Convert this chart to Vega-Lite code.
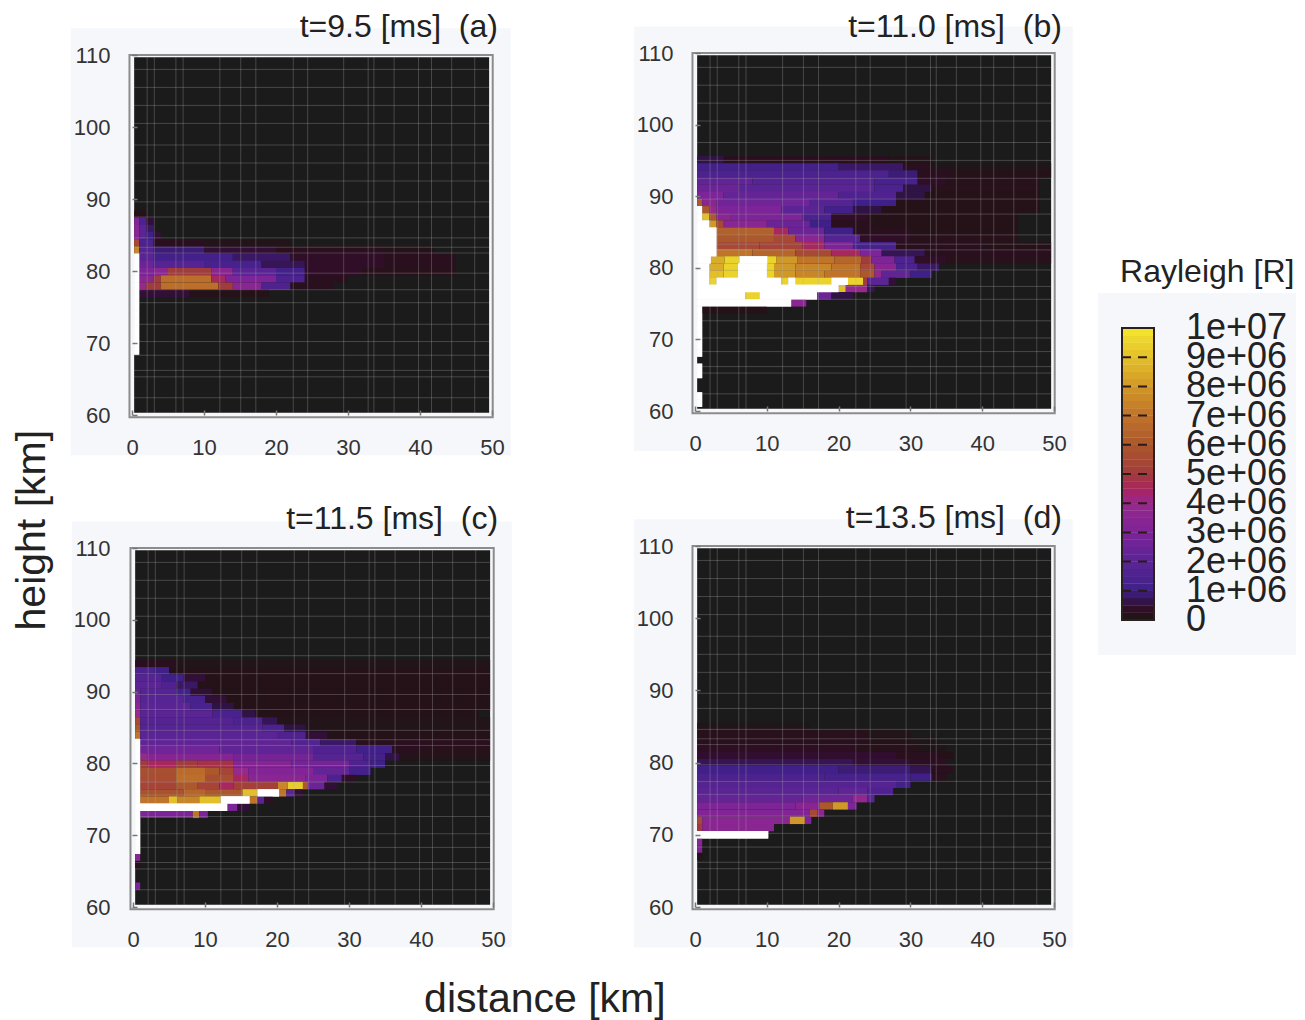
{"$schema":"https://vega.github.io/schema/vega-lite/v6.json","padding":{"left":11,"top":10,"right":9,"bottom":0},"background":"white","bounds":"flush","align":"each","columns":3,"spacing":{"row":131,"column":67},
"config":{"font":"Liberation Sans","view":{"stroke":null},"axis":{"grid":false,"domain":false,"tickColor":"#777777","tickWidth":1.5,"tickSize":-5,"labelColor":"#333333","labelFontSize":22,"labelOverlap":false,"labelFlush":false,"labelBound":false,"labelPadding":27}},
"datasets":{
"paper":[{"x":-8.5,"X":52.6,"y":54.4,"Y":113.7}],
"black":[{"x":0.3,"X":49.6,"y":60.3,"Y":109.7}],
"frame":[{"x":-0.35,"X":50.1,"y":59.7,"Y":110}],
"gx":[{"g":2.1},{"g":3.1},{"g":6.1},{"g":7.1},{"g":12.2},{"g":15.1},{"g":17.2},{"g":22.4},{"g":24.4},{"g":29.4},{"g":32.8},{"g":33.6},{"g":36.4},{"g":39.8},{"g":41.6},{"g":44.4},{"g":47.6}],
"gy":[{"g":62.4},{"g":65.3},{"g":66.2},{"g":68.3},{"g":70.2},{"g":72.6},{"g":75.6},{"g":77.4},{"g":79.7},{"g":82.5},{"g":83.3},{"g":84.6},{"g":87.5},{"g":89.6},{"g":92.5},{"g":95},{"g":97.5},{"g":100.5},{"g":103},{"g":105.5},{"g":108}],
"a":[
{"x":0.3,"X":2,"y":87.9,"v":0.2},
{"x":0.3,"X":1,"y":86.9,"v":3},{"x":1,"X":2,"y":86.9,"v":1.5},{"x":2,"X":3,"y":86.9,"v":0.5},
{"x":0.3,"X":1,"y":85.9,"v":3.5},{"x":1,"X":2,"y":85.9,"v":2},{"x":2,"X":3,"y":85.9,"v":0.8},
{"x":0.3,"X":1,"y":84.9,"v":3.5},{"x":1,"X":2,"y":84.9,"v":2},{"x":2,"X":3,"y":84.9,"v":1},{"x":3,"X":4,"y":84.9,"v":0.5},
{"x":0.3,"X":1,"y":83.9,"v":5.5},{"x":1,"X":3,"y":83.9,"v":1.5},{"x":3,"X":10,"y":83.9,"v":0.3},{"x":10,"X":22,"y":83.9,"v":0.15},
{"x":0.3,"X":1,"y":82.9,"v":7.5},{"x":1,"X":3,"y":82.9,"v":1.8},{"x":3,"X":10,"y":82.9,"v":0.9},{"x":10,"X":20,"y":82.9,"v":0.5},{"x":20,"X":35,"y":82.9,"v":0.3},{"x":35,"X":42,"y":82.9,"v":0.2},
{"x":1,"X":3,"y":81.9,"v":2},{"x":3,"X":14,"y":81.9,"v":1.2},{"x":14,"X":22,"y":81.9,"v":0.8},{"x":22,"X":35,"y":81.9,"v":0.4},{"x":35,"X":45,"y":81.9,"v":0.3},
{"x":1,"X":3,"y":80.9,"v":2.5},{"x":3,"X":10,"y":80.9,"v":1.8},{"x":10,"X":18,"y":80.9,"v":1.3},{"x":18,"X":24,"y":80.9,"v":0.7},{"x":24,"X":35,"y":80.9,"v":0.4},{"x":35,"X":45,"y":80.9,"v":0.3},
{"x":1,"X":3,"y":79.9,"v":3},{"x":3,"X":5,"y":79.9,"v":3.5},{"x":5,"X":11,"y":79.9,"v":5},{"x":11,"X":14,"y":79.9,"v":3.5},{"x":14,"X":20,"y":79.9,"v":2},{"x":20,"X":24,"y":79.9,"v":1.2},{"x":24,"X":32,"y":79.9,"v":0.4},{"x":32,"X":45,"y":79.9,"v":0.25},
{"x":1,"X":3,"y":78.9,"v":3.5},{"x":3,"X":4,"y":78.9,"v":5},{"x":4,"X":11,"y":78.9,"v":6.8},{"x":11,"X":13,"y":78.9,"v":4.5},{"x":13,"X":20,"y":78.9,"v":3},{"x":20,"X":24,"y":78.9,"v":1.5},{"x":24,"X":30,"y":78.9,"v":0.3},
{"x":1,"X":2,"y":77.9,"v":4},{"x":2,"X":4,"y":77.9,"v":5},{"x":4,"X":12,"y":77.9,"v":6.8},{"x":12,"X":14,"y":77.9,"v":5},{"x":14,"X":18,"y":77.9,"v":3.5},{"x":18,"X":22,"y":77.9,"v":1.6},{"x":22,"X":28,"y":77.9,"v":0.3},
{"x":1,"X":8,"y":76.9,"v":0.5},{"x":8,"X":19,"y":76.9,"v":0.2},
{"x":0.3,"X":1,"y":81.9,"v":11},{"x":0.3,"X":1,"y":80.9,"v":11},{"x":0.3,"X":1,"y":79.9,"v":11},{"x":0.3,"X":1,"y":78.9,"v":11},{"x":0.3,"X":1,"y":77.9,"v":11},{"x":0.3,"X":1,"y":76.9,"v":11},{"x":0.3,"X":1,"y":75.9,"v":11},{"x":0.3,"X":1,"y":74.9,"v":11},{"x":0.3,"X":1,"y":73.9,"v":11},{"x":0.3,"X":1,"y":72.9,"v":11},{"x":0.3,"X":1,"y":71.9,"v":11},{"x":0.3,"X":1,"y":70.9,"v":11},{"x":0.3,"X":1,"y":69.9,"v":11},{"x":0.3,"X":1,"y":68.9,"v":11}],
"b":[
{"x":0.3,"X":4,"y":95.1,"v":0.6},{"x":4,"X":27,"y":95.1,"v":0.3},{"x":27,"X":33,"y":95.1,"v":0.15},
{"x":0.3,"X":20,"y":94.1,"v":1.2},{"x":20,"X":29,"y":94.1,"v":0.8},{"x":29,"X":33,"y":94.1,"v":0.3},{"x":33,"X":49.6,"y":94.1,"v":0.1},
{"x":0.3,"X":27,"y":93.1,"v":1.5},{"x":27,"X":31,"y":93.1,"v":0.9},{"x":31,"X":36,"y":93.1,"v":0.3},{"x":36,"X":49.6,"y":93.1,"v":0.2},
{"x":0.3,"X":8,"y":92.1,"v":2.2},{"x":8,"X":25,"y":92.1,"v":1.8},{"x":25,"X":31,"y":92.1,"v":1.3},{"x":31,"X":35,"y":92.1,"v":0.4},{"x":35,"X":48,"y":92.1,"v":0.25},
{"x":0.3,"X":6,"y":91.1,"v":2.5},{"x":6,"X":25,"y":91.1,"v":2},{"x":25,"X":29,"y":91.1,"v":1.5},{"x":29,"X":33,"y":91.1,"v":0.6},{"x":33,"X":48,"y":91.1,"v":0.25},
{"x":0.3,"X":4,"y":90.1,"v":3},{"x":4,"X":20,"y":90.1,"v":2.3},{"x":20,"X":28,"y":90.1,"v":1.6},{"x":28,"X":32,"y":90.1,"v":0.6},{"x":32,"X":48,"y":90.1,"v":0.2},
{"x":0.3,"X":1,"y":89.1,"v":6},{"x":1,"X":3,"y":89.1,"v":3.5},{"x":3,"X":16,"y":89.1,"v":2.6},{"x":16,"X":22,"y":89.1,"v":1.8},{"x":22,"X":28,"y":89.1,"v":1},{"x":28,"X":48,"y":89.1,"v":0.2},
{"x":0.3,"X":1,"y":88.1,"v":11},{"x":1,"X":2,"y":88.1,"v":6},{"x":2,"X":3,"y":88.1,"v":4},{"x":3,"X":12,"y":88.1,"v":3},{"x":12,"X":18,"y":88.1,"v":2},{"x":18,"X":22,"y":88.1,"v":1.2},{"x":22,"X":26,"y":88.1,"v":0.6},{"x":26,"X":48,"y":88.1,"v":0.2},
{"x":0.3,"X":1,"y":87.1,"v":11},{"x":1,"X":2,"y":87.1,"v":9},{"x":2,"X":3,"y":87.1,"v":6},{"x":3,"X":5,"y":87.1,"v":3.5},{"x":5,"X":15,"y":87.1,"v":3},{"x":15,"X":19,"y":87.1,"v":1.5},{"x":19,"X":24,"y":87.1,"v":0.4},{"x":24,"X":45,"y":87.1,"v":0.2},
{"x":0.3,"X":2,"y":86.1,"v":11},{"x":2,"X":3,"y":86.1,"v":8},{"x":3,"X":4,"y":86.1,"v":5.5},{"x":4,"X":10,"y":86.1,"v":3.5},{"x":10,"X":16,"y":86.1,"v":2.5},{"x":16,"X":19,"y":86.1,"v":1},{"x":19,"X":25,"y":86.1,"v":0.3},{"x":25,"X":45,"y":86.1,"v":0.2},
{"x":0.3,"X":3,"y":85.1,"v":11},{"x":3,"X":11,"y":85.1,"v":6.3},{"x":11,"X":13,"y":85.1,"v":4.5},{"x":13,"X":18,"y":85.1,"v":2.5},{"x":18,"X":22,"y":85.1,"v":1},{"x":22,"X":30,"y":85.1,"v":0.3},{"x":30,"X":45,"y":85.1,"v":0.2},
{"x":0.3,"X":3,"y":84.1,"v":11},{"x":3,"X":11,"y":84.1,"v":6},{"x":11,"X":14,"y":84.1,"v":5.5},{"x":14,"X":18,"y":84.1,"v":3.5},{"x":18,"X":23,"y":84.1,"v":1.8},{"x":23,"X":30,"y":84.1,"v":0.4},{"x":30,"X":45,"y":84.1,"v":0.25},
{"x":0.3,"X":3,"y":83.1,"v":11},{"x":3,"X":9,"y":83.1,"v":5.5},{"x":9,"X":15,"y":83.1,"v":5.3},{"x":15,"X":18,"y":83.1,"v":4.5},{"x":18,"X":22,"y":83.1,"v":3},{"x":22,"X":28,"y":83.1,"v":1.3},{"x":28,"X":40,"y":83.1,"v":0.3},{"x":40,"X":49.6,"y":83.1,"v":0.2},
{"x":0.3,"X":3,"y":82.1,"v":11},{"x":3,"X":8,"y":82.1,"v":7},{"x":8,"X":14,"y":82.1,"v":6.5},{"x":14,"X":19,"y":82.1,"v":5.5},{"x":19,"X":23,"y":82.1,"v":4.5},{"x":23,"X":26,"y":82.1,"v":3},{"x":26,"X":32,"y":82.1,"v":0.7},{"x":32,"X":49.6,"y":82.1,"v":0.3},
{"x":0.3,"X":2.2,"y":81.1,"v":11},{"x":2.2,"X":4.1,"y":81.1,"v":8.5},{"x":4.1,"X":6.2,"y":81.1,"v":9.5},{"x":6.2,"X":10.1,"y":81.1,"v":11},{"x":10.1,"X":11.3,"y":81.1,"v":9.5},{"x":11.3,"X":14.3,"y":81.1,"v":8},{"x":14.3,"X":19.4,"y":81.1,"v":7},{"x":19.4,"X":23.2,"y":81.1,"v":6.5},{"x":23.2,"X":24.6,"y":81.1,"v":5},{"x":24.6,"X":27.8,"y":81.1,"v":3},{"x":27.8,"X":30.6,"y":81.1,"v":1.5},{"x":30.6,"X":35,"y":81.1,"v":0.4},{"x":35,"X":49.6,"y":81.1,"v":0.25},
{"x":0.3,"X":2,"y":80.1,"v":11},{"x":2,"X":4,"y":80.1,"v":8.5},{"x":4,"X":6,"y":80.1,"v":9.5},{"x":6,"X":10,"y":80.1,"v":11},{"x":10,"X":11,"y":80.1,"v":9.5},{"x":11,"X":14,"y":80.1,"v":8},{"x":14,"X":19,"y":80.1,"v":7.5},{"x":19,"X":23,"y":80.1,"v":7},{"x":23,"X":25,"y":80.1,"v":5.5},{"x":25,"X":28,"y":80.1,"v":3.5},{"x":28,"X":31,"y":80.1,"v":1.5},{"x":31,"X":34,"y":80.1,"v":0.8},
{"x":0.3,"X":2,"y":79.1,"v":11},{"x":2,"X":4,"y":79.1,"v":9},{"x":4,"X":6,"y":79.1,"v":9.5},{"x":6,"X":10,"y":79.1,"v":11},{"x":10,"X":11,"y":79.1,"v":9.5},{"x":11,"X":14,"y":79.1,"v":8},{"x":14,"X":18,"y":79.1,"v":7.5},{"x":18,"X":23,"y":79.1,"v":7},{"x":23,"X":25,"y":79.1,"v":6},{"x":25,"X":26,"y":79.1,"v":4},{"x":26,"X":30,"y":79.1,"v":2.2},{"x":30,"X":33,"y":79.1,"v":1},
{"x":0.3,"X":2,"y":78.1,"v":11},{"x":2,"X":3,"y":78.1,"v":9.5},{"x":3,"X":12,"y":78.1,"v":11},{"x":12,"X":13,"y":78.1,"v":9.5},{"x":13,"X":14,"y":78.1,"v":11},{"x":14,"X":19,"y":78.1,"v":9.5},{"x":19,"X":21.3,"y":78.1,"v":11},{"x":21.3,"X":23.4,"y":78.1,"v":9.5},{"x":23.4,"X":24,"y":78.1,"v":5},{"x":24,"X":27,"y":78.1,"v":2},{"x":27,"X":28,"y":78.1,"v":0.5},
{"x":0.3,"X":20,"y":77.1,"v":11},{"x":20,"X":21,"y":77.1,"v":9},{"x":21,"X":24,"y":77.1,"v":4},{"x":24,"X":25,"y":77.1,"v":0.7},
{"x":0.3,"X":7,"y":76.1,"v":11},{"x":7,"X":9,"y":76.1,"v":9.5},{"x":9,"X":17,"y":76.1,"v":11},{"x":17,"X":19,"y":76.1,"v":2.5},{"x":19,"X":22,"y":76.1,"v":0.6},
{"x":0.3,"X":13.4,"y":75.1,"v":11},{"x":13.4,"X":15.5,"y":75.1,"v":3.5},
{"x":0.3,"X":1,"y":74.1,"v":11},{"x":1,"X":10,"y":74.1,"v":0.2},
{"x":0.3,"X":1,"y":73.1,"v":11},{"x":0.3,"X":1,"y":72.1,"v":11},{"x":0.3,"X":1,"y":71.1,"v":11},{"x":0.3,"X":1,"y":70.1,"v":11},{"x":0.3,"X":1,"y":69.1,"v":11},{"x":0.3,"X":1,"y":68.1,"v":11},{"x":0.3,"X":1,"y":66.1,"v":11},{"x":0.3,"X":1,"y":65.1,"v":11},{"x":0.3,"X":1,"y":62.1,"v":11},{"x":0.3,"X":1,"y":61.1,"v":11}],
"c":[
{"x":0.3,"X":6,"y":93.9,"v":0.3},{"x":6,"X":49.6,"y":93.9,"v":0.12},
{"x":0.3,"X":3,"y":92.9,"v":1.5},{"x":3,"X":5,"y":92.9,"v":1},{"x":5,"X":49.6,"y":92.9,"v":0.2},
{"x":0.3,"X":4,"y":91.9,"v":1.8},{"x":4,"X":7,"y":91.9,"v":1},{"x":7,"X":10,"y":91.9,"v":0.5},{"x":10,"X":49.6,"y":91.9,"v":0.2},
{"x":0.3,"X":4,"y":90.9,"v":2},{"x":4,"X":6,"y":90.9,"v":1.6},{"x":6,"X":9,"y":90.9,"v":0.8},{"x":9,"X":49.6,"y":90.9,"v":0.2},
{"x":0.3,"X":1,"y":89.9,"v":2.5},{"x":1,"X":6,"y":89.9,"v":1.8},{"x":6,"X":8,"y":89.9,"v":1.2},{"x":8,"X":11,"y":89.9,"v":0.5},{"x":11,"X":49.6,"y":89.9,"v":0.2},
{"x":0.3,"X":1,"y":88.9,"v":3},{"x":1,"X":7,"y":88.9,"v":1.9},{"x":7,"X":10,"y":88.9,"v":1.3},{"x":10,"X":13,"y":88.9,"v":0.5},{"x":13,"X":49.6,"y":88.9,"v":0.2},
{"x":0.3,"X":1,"y":87.9,"v":3.5},{"x":1,"X":8,"y":87.9,"v":2},{"x":8,"X":11,"y":87.9,"v":1.4},{"x":11,"X":14,"y":87.9,"v":0.6},{"x":14,"X":49.6,"y":87.9,"v":0.2},
{"x":0.3,"X":1,"y":86.9,"v":4},{"x":1,"X":11,"y":86.9,"v":2},{"x":11,"X":15,"y":86.9,"v":1.4},{"x":15,"X":17,"y":86.9,"v":0.6},{"x":17,"X":48,"y":86.9,"v":0.2},
{"x":0.3,"X":1,"y":85.9,"v":5.5},{"x":1,"X":14,"y":85.9,"v":1.8},{"x":14,"X":18,"y":85.9,"v":1.5},{"x":18,"X":20,"y":85.9,"v":0.7},{"x":20,"X":49.6,"y":85.9,"v":0.15},
{"x":0.3,"X":1,"y":84.9,"v":6},{"x":1,"X":18,"y":84.9,"v":1.8},{"x":18,"X":21,"y":84.9,"v":1.5},{"x":21,"X":24,"y":84.9,"v":0.6},{"x":24,"X":49.6,"y":84.9,"v":0.15},
{"x":0.3,"X":1,"y":83.9,"v":7},{"x":1,"X":20,"y":83.9,"v":2},{"x":20,"X":24,"y":83.9,"v":1.6},{"x":24,"X":27,"y":83.9,"v":0.5},{"x":27,"X":49.6,"y":83.9,"v":0.2},
{"x":0.3,"X":1,"y":82.9,"v":11},{"x":1,"X":22,"y":82.9,"v":2.2},{"x":22,"X":26,"y":82.9,"v":1.7},{"x":26,"X":31,"y":82.9,"v":0.8},{"x":31,"X":49.6,"y":82.9,"v":0.3},
{"x":0.3,"X":1,"y":81.9,"v":11},{"x":1,"X":12,"y":81.9,"v":2.6},{"x":12,"X":25,"y":81.9,"v":2.2},{"x":25,"X":31,"y":81.9,"v":1.6},{"x":31,"X":36,"y":81.9,"v":1.1},{"x":36,"X":40,"y":81.9,"v":0.3},{"x":40,"X":49.6,"y":81.9,"v":0.25},
{"x":0.3,"X":1,"y":80.9,"v":11},{"x":1,"X":2,"y":80.9,"v":4},{"x":2,"X":14,"y":80.9,"v":3.3},{"x":14,"X":25,"y":80.9,"v":2.8},{"x":25,"X":32,"y":80.9,"v":1.8},{"x":32,"X":35,"y":80.9,"v":1.2},{"x":35,"X":37,"y":80.9,"v":0.6},{"x":37,"X":49.6,"y":80.9,"v":0.15},
{"x":0.3,"X":1,"y":79.9,"v":11},{"x":1,"X":2,"y":79.9,"v":5},{"x":2,"X":6,"y":79.9,"v":4.5},{"x":6,"X":9,"y":79.9,"v":5},{"x":9,"X":14,"y":79.9,"v":4.8},{"x":14,"X":22,"y":79.9,"v":3.3},{"x":22,"X":30,"y":79.9,"v":2.8},{"x":30,"X":33,"y":79.9,"v":1.6},{"x":33,"X":35,"y":79.9,"v":1},
{"x":0.3,"X":1,"y":78.9,"v":11},{"x":1,"X":6,"y":78.9,"v":5.7},{"x":6,"X":10,"y":78.9,"v":6.7},{"x":10,"X":12,"y":78.9,"v":6},{"x":12,"X":14,"y":78.9,"v":5.3},{"x":14,"X":16,"y":78.9,"v":4},{"x":16,"X":25,"y":78.9,"v":3.2},{"x":25,"X":30,"y":78.9,"v":2.3},{"x":30,"X":33,"y":78.9,"v":1.2},
{"x":0.3,"X":1,"y":77.9,"v":11},{"x":1,"X":6,"y":77.9,"v":5.6},{"x":6,"X":10,"y":77.9,"v":6.8},{"x":10,"X":14,"y":77.9,"v":5.7},{"x":14,"X":16,"y":77.9,"v":4.5},{"x":16,"X":24,"y":77.9,"v":3.5},{"x":24,"X":27,"y":77.9,"v":3},{"x":27,"X":29,"y":77.9,"v":1.5},{"x":29,"X":31,"y":77.9,"v":0.4},
{"x":0.3,"X":1,"y":76.9,"v":11},{"x":1,"X":6,"y":76.9,"v":5.3},{"x":6,"X":9,"y":76.9,"v":6},{"x":9,"X":12,"y":76.9,"v":5.3},{"x":12,"X":14,"y":76.9,"v":4.5},{"x":14,"X":20.1,"y":76.9,"v":5.2},{"x":20.1,"X":21.5,"y":76.9,"v":7.5},{"x":21.5,"X":23.6,"y":76.9,"v":9.3},{"x":23.6,"X":24.3,"y":76.9,"v":6},{"x":24.3,"X":26.6,"y":76.9,"v":2.5},{"x":26.6,"X":28.4,"y":76.9,"v":0.5},
{"x":0.3,"X":1,"y":75.9,"v":11},{"x":1,"X":7,"y":75.9,"v":5.8},{"x":7,"X":10,"y":75.9,"v":6.5},{"x":10,"X":15.2,"y":75.9,"v":6},{"x":15.2,"X":17.3,"y":75.9,"v":9},{"x":17.3,"X":20.3,"y":75.9,"v":11},{"x":20.3,"X":21.3,"y":75.9,"v":7},{"x":21.3,"X":22.4,"y":75.9,"v":2},{"x":22.4,"X":23.6,"y":75.9,"v":0.5},
{"x":0.3,"X":1,"y":74.9,"v":11},{"x":1,"X":5,"y":74.9,"v":7},{"x":5,"X":6.2,"y":74.9,"v":9},{"x":6.2,"X":9.2,"y":74.9,"v":7.5},{"x":9.2,"X":12.2,"y":74.9,"v":9},{"x":12.2,"X":16.2,"y":74.9,"v":11},{"x":16.2,"X":17.3,"y":74.9,"v":7},{"x":17.3,"X":18.2,"y":74.9,"v":2},{"x":18.2,"X":19.4,"y":74.9,"v":0.4},
{"x":0.3,"X":13.1,"y":73.9,"v":11},{"x":13.1,"X":14.5,"y":73.9,"v":3},{"x":14.5,"X":16.2,"y":73.9,"v":0.5},
{"x":0.3,"X":1,"y":72.9,"v":11},{"x":1,"X":8.3,"y":72.9,"v":3},{"x":8.3,"X":9.2,"y":72.9,"v":7},{"x":9.2,"X":10.4,"y":72.9,"v":3},
{"x":0.3,"X":1,"y":71.9,"v":11},{"x":0.3,"X":1,"y":70.9,"v":11},{"x":0.3,"X":1,"y":69.9,"v":11},{"x":0.3,"X":1,"y":68.9,"v":11},{"x":0.3,"X":1,"y":67.9,"v":11},{"x":0.3,"X":1,"y":66.9,"v":3.5},{"x":0.3,"X":1,"y":65.9,"v":0.3},{"x":0.3,"X":1,"y":62.9,"v":3}],
"d":[
{"x":0.3,"X":16,"y":85,"v":0.1},
{"x":0.3,"X":24,"y":84,"v":0.25},{"x":24,"X":30,"y":84,"v":0.12},
{"x":0.3,"X":24,"y":83,"v":0.3},{"x":24,"X":30,"y":83,"v":0.2},{"x":30,"X":34,"y":83,"v":0.1},
{"x":0.3,"X":22,"y":82,"v":0.35},{"x":22,"X":31,"y":82,"v":0.25},{"x":31,"X":35,"y":82,"v":0.1},
{"x":0.3,"X":28,"y":81,"v":0.45},{"x":28,"X":34,"y":81,"v":0.3},{"x":34,"X":36,"y":81,"v":0.2},
{"x":0.3,"X":22,"y":80,"v":0.7},{"x":22,"X":30,"y":80,"v":0.5},{"x":30,"X":35,"y":80,"v":0.35},
{"x":0.3,"X":20,"y":79,"v":1.1},{"x":20,"X":30,"y":79,"v":0.9},{"x":30,"X":33,"y":79,"v":0.7},{"x":33,"X":36,"y":79,"v":0.3},
{"x":0.3,"X":18,"y":78,"v":1.5},{"x":18,"X":30,"y":78,"v":1.3},{"x":30,"X":33,"y":78,"v":1},{"x":33,"X":35,"y":78,"v":0.3},
{"x":0.3,"X":28,"y":77,"v":1.8},{"x":28,"X":30,"y":77,"v":1.2},
{"x":0.3,"X":20,"y":76,"v":2},{"x":20,"X":24,"y":76,"v":2.2},{"x":24,"X":27.6,"y":76,"v":1.6},
{"x":0.3,"X":15,"y":75,"v":2.3},{"x":15,"X":22,"y":75,"v":2.6},{"x":22,"X":24,"y":75,"v":3.8},{"x":24,"X":25,"y":75,"v":2},
{"x":0.3,"X":14,"y":74,"v":3},{"x":14,"X":17.3,"y":74,"v":3.4},{"x":17.3,"X":19.2,"y":74,"v":6},{"x":19.2,"X":21.3,"y":74,"v":8},{"x":21.3,"X":22.5,"y":74,"v":3},
{"x":0.3,"X":16,"y":73,"v":3.2},{"x":16,"X":17,"y":73,"v":5.5},{"x":17,"X":18,"y":73,"v":3.5},
{"x":0.3,"X":1,"y":72,"v":5.5},{"x":1,"X":13.2,"y":72,"v":3.5},{"x":13.2,"X":15.3,"y":72,"v":8},{"x":15.3,"X":16.2,"y":72,"v":3},
{"x":0.3,"X":1,"y":71,"v":5},{"x":1,"X":11,"y":71,"v":3.5},
{"x":0.3,"X":10.2,"y":70,"v":11},
{"x":0.3,"X":1,"y":69,"v":3.5},{"x":0.3,"X":1,"y":68,"v":3.2},{"x":0.3,"X":1,"y":67,"v":0.2}],
"bar":[{"v":0.125},{"v":0.375},{"v":0.625},{"v":0.875},{"v":1.125},{"v":1.375},{"v":1.625},{"v":1.875},{"v":2.125},{"v":2.375},{"v":2.625},{"v":2.875},{"v":3.125},{"v":3.375},{"v":3.625},{"v":3.875},{"v":4.125},{"v":4.375},{"v":4.625},{"v":4.875},{"v":5.125},{"v":5.375},{"v":5.625},{"v":5.875},{"v":6.125},{"v":6.375},{"v":6.625},{"v":6.875},{"v":7.125},{"v":7.375},{"v":7.625},{"v":7.875},{"v":8.125},{"v":8.375},{"v":8.625},{"v":8.875},{"v":9.125},{"v":9.375},{"v":9.625},{"v":9.875}]
},
"concat":[
{"width":496,"height":362,"layer":[
{"data":{"name":"paper"},"mark":{"type":"rect","fill":"#f6f7fb"},"encoding":{"x":{"field":"x","type":"quantitative","scale":{"domain":[0,50],"range":[0,360]},"axis":{"title":null,"zindex":1,"values":[0,10,20,30,40,50]}},"x2":{"field":"X"},"y":{"field":"y","type":"quantitative","scale":{"domain":[60,110],"range":[362,2]},"axis":{"title":null,"zindex":1,"values":[60,70,80,90,100,110]}},"y2":{"field":"Y"}}},
{"data":{"name":"black"},"mark":{"type":"rect","fill":"#1b1b1b"},"encoding":{"x":{"field":"x","type":"quantitative","title":null},"x2":{"field":"X"},"y":{"field":"y","type":"quantitative","title":null},"y2":{"field":"Y"}}},
{"data":{"name":"a"},"mark":{"type":"rect","height":7.4},"encoding":{"x":{"field":"x","type":"quantitative","title":null},"x2":{"field":"X"},"y":{"field":"y","type":"quantitative","title":null},"color":{"field":"v","type":"quantitative","legend":null,"scale":{"type":"linear","clamp":true,"domain":[0,0.15,0.3,0.6,1,2,3,4,5,6,7,8,9,10,10.01,11],"range":["#1b1b1b","#221418","#2a0f1e","#301345","#3e2088","#5a2494","#7c2498","#962a8c","#a03c3c","#ab582c","#c0742a","#d09828","#e3c02a","#f4e62e","#ffffff","#ffffff"]}}}},
{"data":{"name":"gx"},"mark":{"type":"rule","stroke":"#b0b0b0","opacity":0.3},"encoding":{"x":{"field":"g","type":"quantitative","title":null},"y":{"datum":60.3,"type":"quantitative","title":null},"y2":{"datum":109.7}}},
{"data":{"name":"gy"},"mark":{"type":"rule","stroke":"#b0b0b0","opacity":0.3},"encoding":{"y":{"field":"g","type":"quantitative","title":null},"x":{"datum":0.3,"type":"quantitative","title":null},"x2":{"datum":49.6}}},
{"data":{"name":"a"},"transform":[{"filter":"datum.v==11"}],"mark":{"type":"rect","height":7.4,"fill":"#ffffff"},"encoding":{"x":{"field":"x","type":"quantitative","title":null},"x2":{"field":"X"},"y":{"field":"y","type":"quantitative","title":null}}},
{"data":{"name":"frame"},"mark":{"type":"rect","fillOpacity":0,"stroke":"#8c8c8c","strokeWidth":2},"encoding":{"x":{"field":"x","type":"quantitative","title":null},"x2":{"field":"X"},"y":{"field":"y","type":"quantitative","title":null},"y2":{"field":"Y"}}},
{"data":{"values":[{"x":50.83,"y":112.5,"t":"t=9.5 [ms]\u00a0\u00a0(a)"}]},"mark":{"type":"text","fontSize":32,"align":"right","baseline":"alphabetic","fill":"#222222"},"encoding":{"x":{"field":"x","type":"quantitative","title":null},"y":{"field":"y","type":"quantitative","title":null},"text":{"field":"t"}}},
{"data":{"values":[{"x":-12.1,"y":44,"t":"height [km]"}]},"mark":{"type":"text","fontSize":41,"angle":270,"align":"center","baseline":"alphabetic","fill":"#222222"},"encoding":{"x":{"field":"x","type":"quantitative","title":null},"y":{"field":"y","type":"quantitative","title":null},"text":{"field":"t"}}}
]},
{"width":359,"height":362,"layer":[
{"data":{"name":"paper"},"mark":{"type":"rect","fill":"#f6f7fb"},"encoding":{"x":{"field":"x","type":"quantitative","scale":{"domain":[0,50],"range":[0,359]},"axis":{"title":null,"zindex":1,"values":[0,10,20,30,40,50],"offset":-4}},"x2":{"field":"X"},"y":{"field":"y","type":"quantitative","scale":{"domain":[60,110],"range":[358,0]},"axis":{"title":null,"zindex":1,"values":[60,70,80,90,100,110]}},"y2":{"field":"Y"}}},
{"data":{"name":"black"},"mark":{"type":"rect","fill":"#1b1b1b"},"encoding":{"x":{"field":"x","type":"quantitative","title":null},"x2":{"field":"X"},"y":{"field":"y","type":"quantitative","title":null},"y2":{"field":"Y"}}},
{"data":{"name":"b"},"mark":{"type":"rect","height":7.4},"encoding":{"x":{"field":"x","type":"quantitative","title":null},"x2":{"field":"X"},"y":{"field":"y","type":"quantitative","title":null},"color":{"field":"v","type":"quantitative","legend":null,"scale":{"type":"linear","clamp":true,"domain":[0,0.15,0.3,0.6,1,2,3,4,5,6,7,8,9,10,10.01,11],"range":["#1b1b1b","#221418","#2a0f1e","#301345","#3e2088","#5a2494","#7c2498","#962a8c","#a03c3c","#ab582c","#c0742a","#d09828","#e3c02a","#f4e62e","#ffffff","#ffffff"]}}}},
{"data":{"name":"gx"},"mark":{"type":"rule","stroke":"#b0b0b0","opacity":0.3},"encoding":{"x":{"field":"g","type":"quantitative","title":null},"y":{"datum":60.3,"type":"quantitative","title":null},"y2":{"datum":109.7}}},
{"data":{"name":"gy"},"mark":{"type":"rule","stroke":"#b0b0b0","opacity":0.3},"encoding":{"y":{"field":"g","type":"quantitative","title":null},"x":{"datum":0.3,"type":"quantitative","title":null},"x2":{"datum":49.6}}},
{"data":{"name":"b"},"transform":[{"filter":"datum.v==11"}],"mark":{"type":"rect","height":7.4,"fill":"#ffffff"},"encoding":{"x":{"field":"x","type":"quantitative","title":null},"x2":{"field":"X"},"y":{"field":"y","type":"quantitative","title":null}}},
{"data":{"name":"frame"},"mark":{"type":"rect","fillOpacity":0,"stroke":"#8c8c8c","strokeWidth":2},"encoding":{"x":{"field":"x","type":"quantitative","title":null},"x2":{"field":"X"},"y":{"field":"y","type":"quantitative","title":null},"y2":{"field":"Y"}}},
{"data":{"values":[{"x":51.1,"y":112.2,"t":"t=11.0 [ms]\u00a0\u00a0(b)"}]},"mark":{"type":"text","fontSize":32,"align":"right","baseline":"alphabetic","fill":"#222222"},"encoding":{"x":{"field":"x","type":"quantitative","title":null},"y":{"field":"y","type":"quantitative","title":null},"text":{"field":"t"}}}
]},
{"width":32,"height":362,"layer":[
{"data":{"values":[{"x":-0.75,"X":5.44,"y":-1.2,"Y":11.2}]},"mark":{"type":"rect","fill":"#f6f7fb"},"encoding":{"x":{"field":"x","type":"quantitative","scale":{"domain":[0,1],"range":[1,33]},"axis":null},"x2":{"field":"X"},"y":{"field":"y","type":"quantitative","scale":{"domain":[0,10],"range":[567,275]},"axis":null},"y2":{"field":"Y"}}},
{"data":{"name":"bar"},"mark":{"type":"rect","height":7.6},"encoding":{"x":{"datum":0,"type":"quantitative","axis":null},"x2":{"datum":1},"y":{"field":"v","type":"quantitative","axis":null},"color":{"field":"v","type":"quantitative","legend":null,"scale":{"type":"linear","clamp":true,"domain":[0,0.15,0.3,0.6,1,2,3,4,5,6,7,8,9,10,10.01,11],"range":["#1b1b1b","#221418","#2a0f1e","#301345","#3e2088","#5a2494","#7c2498","#962a8c","#a03c3c","#ab582c","#c0742a","#d09828","#e3c02a","#f4e62e","#ffffff","#ffffff"]}}}},
{"data":{"values":[{"g":1},{"g":2},{"g":3},{"g":4},{"g":5},{"g":6},{"g":7},{"g":8},{"g":9}]},"mark":{"type":"rule","stroke":"#2a1a1a","strokeWidth":2,"strokeDash":[9,7]},"encoding":{"y":{"field":"g","type":"quantitative","axis":null},"x":{"datum":0,"type":"quantitative","axis":null},"x2":{"datum":1}}},
{"data":{"values":[{"x":0,"X":1,"y":0,"Y":10}]},"mark":{"type":"rect","fillOpacity":0,"stroke":"#2a2020","strokeWidth":2},"encoding":{"x":{"field":"x","type":"quantitative","axis":null},"x2":{"field":"X"},"y":{"field":"y","type":"quantitative","axis":null},"y2":{"field":"Y"}}},
{"data":{"values":[{"x":-0.06,"y":11.58,"t":"Rayleigh [R]"}]},"mark":{"type":"text","fontSize":32,"align":"left","baseline":"alphabetic","fill":"#222222"},"encoding":{"x":{"field":"x","type":"quantitative","axis":null},"y":{"field":"y","type":"quantitative","axis":null},"text":{"field":"t"}}},
{"data":{"values":[{"y":0,"t":"0"},{"y":1,"t":"1e+06"},{"y":2,"t":"2e+06"},{"y":3,"t":"3e+06"},{"y":4,"t":"4e+06"},{"y":5,"t":"5e+06"},{"y":6,"t":"6e+06"},{"y":7,"t":"7e+06"},{"y":8,"t":"8e+06"},{"y":9,"t":"9e+06"},{"y":10,"t":"1e+07"}]},"mark":{"type":"text","fontSize":36,"align":"left","baseline":"middle","fill":"#222222"},"encoding":{"x":{"datum":2,"type":"quantitative","axis":null},"y":{"field":"y","type":"quantitative","axis":null},"text":{"field":"t"}}}
]},
{"width":496,"height":361,"layer":[
{"data":{"name":"paper"},"mark":{"type":"rect","fill":"#f6f7fb"},"encoding":{"x":{"field":"x","type":"quantitative","scale":{"domain":[0,50],"range":[1,361]},"axis":{"title":null,"zindex":1,"values":[0,10,20,30,40,50]}},"x2":{"field":"X"},"y":{"field":"y","type":"quantitative","scale":{"domain":[60,110],"range":[361,2]},"axis":{"title":null,"zindex":1,"values":[60,70,80,90,100,110]}},"y2":{"field":"Y"}}},
{"data":{"name":"black"},"mark":{"type":"rect","fill":"#1b1b1b"},"encoding":{"x":{"field":"x","type":"quantitative","title":null},"x2":{"field":"X"},"y":{"field":"y","type":"quantitative","title":null},"y2":{"field":"Y"}}},
{"data":{"name":"c"},"mark":{"type":"rect","height":7.4},"encoding":{"x":{"field":"x","type":"quantitative","title":null},"x2":{"field":"X"},"y":{"field":"y","type":"quantitative","title":null},"color":{"field":"v","type":"quantitative","legend":null,"scale":{"type":"linear","clamp":true,"domain":[0,0.15,0.3,0.6,1,2,3,4,5,6,7,8,9,10,10.01,11],"range":["#1b1b1b","#221418","#2a0f1e","#301345","#3e2088","#5a2494","#7c2498","#962a8c","#a03c3c","#ab582c","#c0742a","#d09828","#e3c02a","#f4e62e","#ffffff","#ffffff"]}}}},
{"data":{"name":"gx"},"mark":{"type":"rule","stroke":"#b0b0b0","opacity":0.3},"encoding":{"x":{"field":"g","type":"quantitative","title":null},"y":{"datum":60.3,"type":"quantitative","title":null},"y2":{"datum":109.7}}},
{"data":{"name":"gy"},"mark":{"type":"rule","stroke":"#b0b0b0","opacity":0.3},"encoding":{"y":{"field":"g","type":"quantitative","title":null},"x":{"datum":0.3,"type":"quantitative","title":null},"x2":{"datum":49.6}}},
{"data":{"name":"c"},"transform":[{"filter":"datum.v==11"}],"mark":{"type":"rect","height":7.4,"fill":"#ffffff"},"encoding":{"x":{"field":"x","type":"quantitative","title":null},"x2":{"field":"X"},"y":{"field":"y","type":"quantitative","title":null}}},
{"data":{"name":"frame"},"mark":{"type":"rect","fillOpacity":0,"stroke":"#8c8c8c","strokeWidth":2},"encoding":{"x":{"field":"x","type":"quantitative","title":null},"x2":{"field":"X"},"y":{"field":"y","type":"quantitative","title":null},"y2":{"field":"Y"}}},
{"data":{"values":[{"x":50.7,"y":112.6,"t":"t=11.5 [ms]\u00a0\u00a0(c)"}]},"mark":{"type":"text","fontSize":32,"align":"right","baseline":"alphabetic","fill":"#222222"},"encoding":{"x":{"field":"x","type":"quantitative","title":null},"y":{"field":"y","type":"quantitative","title":null},"text":{"field":"t"}}},
{"data":{"values":[{"x":57.2,"y":45.4,"t":"distance [km]"}]},"mark":{"type":"text","fontSize":41,"align":"center","baseline":"alphabetic","fill":"#222222"},"encoding":{"x":{"field":"x","type":"quantitative","title":null},"y":{"field":"y","type":"quantitative","title":null},"text":{"field":"t"}}}
]},
{"width":359,"height":361,"layer":[
{"data":{"name":"paper"},"mark":{"type":"rect","fill":"#f6f7fb"},"encoding":{"x":{"field":"x","type":"quantitative","scale":{"domain":[0,50],"range":[0,359]},"axis":{"title":null,"zindex":1,"values":[0,10,20,30,40,50]}},"x2":{"field":"X"},"y":{"field":"y","type":"quantitative","scale":{"domain":[60,110],"range":[361,0]},"axis":{"title":null,"zindex":1,"values":[60,70,80,90,100,110]}},"y2":{"field":"Y"}}},
{"data":{"name":"black"},"mark":{"type":"rect","fill":"#1b1b1b"},"encoding":{"x":{"field":"x","type":"quantitative","title":null},"x2":{"field":"X"},"y":{"field":"y","type":"quantitative","title":null},"y2":{"field":"Y"}}},
{"data":{"name":"d"},"mark":{"type":"rect","height":7.4},"encoding":{"x":{"field":"x","type":"quantitative","title":null},"x2":{"field":"X"},"y":{"field":"y","type":"quantitative","title":null},"color":{"field":"v","type":"quantitative","legend":null,"scale":{"type":"linear","clamp":true,"domain":[0,0.15,0.3,0.6,1,2,3,4,5,6,7,8,9,10,10.01,11],"range":["#1b1b1b","#221418","#2a0f1e","#301345","#3e2088","#5a2494","#7c2498","#962a8c","#a03c3c","#ab582c","#c0742a","#d09828","#e3c02a","#f4e62e","#ffffff","#ffffff"]}}}},
{"data":{"name":"gx"},"mark":{"type":"rule","stroke":"#b0b0b0","opacity":0.3},"encoding":{"x":{"field":"g","type":"quantitative","title":null},"y":{"datum":60.3,"type":"quantitative","title":null},"y2":{"datum":109.7}}},
{"data":{"name":"gy"},"mark":{"type":"rule","stroke":"#b0b0b0","opacity":0.3},"encoding":{"y":{"field":"g","type":"quantitative","title":null},"x":{"datum":0.3,"type":"quantitative","title":null},"x2":{"datum":49.6}}},
{"data":{"name":"d"},"transform":[{"filter":"datum.v==11"}],"mark":{"type":"rect","height":7.4,"fill":"#ffffff"},"encoding":{"x":{"field":"x","type":"quantitative","title":null},"x2":{"field":"X"},"y":{"field":"y","type":"quantitative","title":null}}},
{"data":{"name":"frame"},"mark":{"type":"rect","fillOpacity":0,"stroke":"#8c8c8c","strokeWidth":2},"encoding":{"x":{"field":"x","type":"quantitative","title":null},"x2":{"field":"X"},"y":{"field":"y","type":"quantitative","title":null},"y2":{"field":"Y"}}},
{"data":{"values":[{"x":51.1,"y":112.5,"t":"t=13.5 [ms]\u00a0\u00a0(d)"}]},"mark":{"type":"text","fontSize":32,"align":"right","baseline":"alphabetic","fill":"#222222"},"encoding":{"x":{"field":"x","type":"quantitative","title":null},"y":{"field":"y","type":"quantitative","title":null},"text":{"field":"t"}}}
]}
]}
